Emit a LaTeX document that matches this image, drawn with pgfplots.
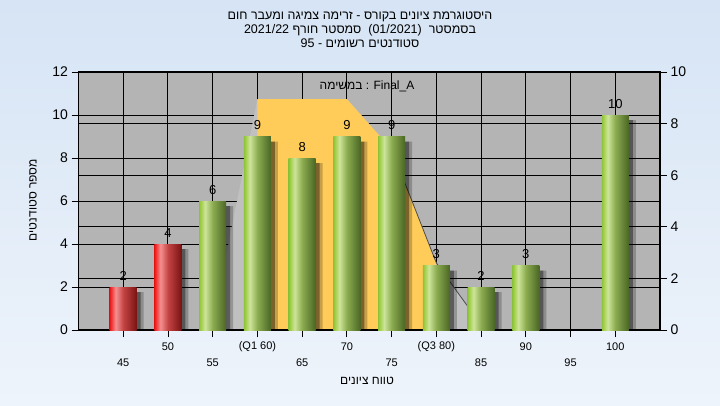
\documentclass[border=0pt]{standalone}
\usepackage{pgfplots}
\pgfplotsset{compat=1.18}
\usepackage{fontspec}
\setmainfont{Liberation Sans}
\newfontfamily\heb[Script=Hebrew]{Liberation Sans}
\TeXXeTstate=1
\newcommand{\fs}[1]{\fontsize{#1}{#1}\selectfont}
\definecolor{bgtop}{HTML}{D6E4F5}
\definecolor{bgbot}{HTML}{EEF4FB}
\definecolor{plotgray}{HTML}{B4B4B4}
\definecolor{wedge}{HTML}{C0C0C0}
\definecolor{areaY}{HTML}{FFCC5A}
\definecolor{gL}{HTML}{8CC43A}
\definecolor{gL2}{HTML}{9CCB40}
\definecolor{gH}{HTML}{CDE59A}
\definecolor{gM}{HTML}{8CAC50}
\definecolor{gR}{HTML}{4A6624}
\definecolor{rL}{HTML}{E81818}
\definecolor{rL2}{HTML}{F02A2A}
\definecolor{rH}{HTML}{F49090}
\definecolor{rM}{HTML}{C44444}
\definecolor{rR}{HTML}{7A1212}
\pgfdeclarehorizontalshading{greenbar}{100bp}{color(0bp)=(gL); color(25bp)=(gL); color(27bp)=(gL2); color(36bp)=(gH); color(50bp)=(gM); color(75bp)=(gR); color(100bp)=(gR)}
\pgfdeclarehorizontalshading{redbar}{100bp}{color(0bp)=(rL); color(25bp)=(rL); color(27bp)=(rL2); color(36bp)=(rH); color(50bp)=(rM); color(75bp)=(rR); color(100bp)=(rR)}
\pgfplotsset{base/.style={scale only axis, width=581.5pt, height=258pt,
  at={(78.5pt,75pt)}, anchor=south west, xmin=-1, xmax=12, ymin=0,
  /pgf/number format/assume math mode=true,
  tick align=outside, major tick length=7pt,
  tick style={black, line width=0.9pt},
  axis line style={black, line width=1.2pt},
  major grid style={black, line width=1pt}},
  gbar/.style={bar shift=0pt, draw=none, shading=greenbar, nodes near coords},
  rbar/.style={bar shift=0pt, draw=none, shading=redbar, nodes near coords}}
\begin{document}
\begin{tikzpicture}
\fill[top color=bgtop, bottom color=bgbot] (0pt,0pt) rectangle (720pt,405pt);
% axis A: background, grids, left ticks, lower row of x labels
\begin{axis}[base, ymax=12,
  axis background/.style={fill=plotgray},
  xtick={0,...,11}, xticklabels={45,{},55,{},65,{},75,{},85,{},95,{}},
  ytick={0,2,...,12}, xmajorgrids, ymajorgrids,
  xtick pos=bottom, ytick pos=left,
  xticklabel style={font=\fs{11}, anchor=center, yshift=-26pt},
  yticklabel style={font=\fs{14}}]
\addplot[draw=none] coordinates {(0,0)};
\end{axis}
% axis B: right axis with area
\begin{axis}[base, ymax=10, axis x line=none, axis y line*=right,
  ytick={0,2,...,10}, ymajorgrids,
  yticklabel style={font=\fs{14}}]
\addplot[fill=wedge, draw=none] coordinates {(2,0.3) (3,8.95) (4,8.95) (5,8.95) (6,7.0) (7,2.6) (8,0.2)} \closedcycle;
\addplot[fill=areaY, draw=none] coordinates {(3,8.95) (4,8.95) (5,8.95) (6,7.0) (7,2.6)} \closedcycle;
\addplot[color=black!70, line width=0.8pt] coordinates {(6,7.0) (7,2.6) (8,0.2)};
\end{axis}
% axis C: bars
\begin{axis}[base, ymax=12, ybar, bar width=27pt,
  xtick={0,...,11}, xticklabels={{},50,{},(Q1 60),{},70,{},(Q3 80),{},90,{},100},
  ytick=\empty, xtick pos=bottom,
  xticklabel style={font=\fs{11}, anchor=center, yshift=-10pt},
  every node near coord/.append style={font=\fs{13}, text=black, anchor=south, yshift=3pt}]
\addplot[bar shift=7pt, yshift=-5pt, fill=black, fill opacity=0.22, draw=none] coordinates {(0,2) (1,4) (2,6) (3,9) (4,8) (5,9) (6,9) (7,3) (8,2) (9,3) (11,10)};
\addplot[bar shift=4pt, yshift=-5pt, fill=black, fill opacity=0.38, draw=none] coordinates {(0,2) (1,4) (2,6) (3,9) (4,8) (5,9) (6,9) (7,3) (8,2) (9,3) (11,10)};
\addplot[rbar] coordinates {(0,2)};
\addplot[rbar] coordinates {(1,4)};
\addplot[gbar] coordinates {(2,6)};
\addplot[gbar] coordinates {(3,9)};
\addplot[gbar] coordinates {(4,8)};
\addplot[gbar] coordinates {(5,9)};
\addplot[gbar] coordinates {(6,9)};
\addplot[gbar] coordinates {(7,3)};
\addplot[gbar] coordinates {(8,2)};
\addplot[gbar] coordinates {(9,3)};
\addplot[gbar] coordinates {(11,10)};
\end{axis}
% texts
\node[font=\fs{12.5}\heb] at (360pt,388pt) {\beginR היסטוגרמת ציונים בקורס - זרימה צמיגה ומעבר חום\endR};
\node[font=\fs{12.5}\heb] at (360pt,375pt) {\beginR בסמסטר \ \beginL(01/2021)\endL\ \ סמסטר חורף \beginL2021/22\endL\endR};
\node[font=\fs{12.5}\heb] at (360pt,362pt) {\beginR סטודנטים רשומים - \beginL95\endL\endR};
\node[font=\fs{12}\heb] at (367pt,319pt) {\beginR במשימה\endR{} : Final\_A};
\node[font=\fs{12}\heb] at (367pt,24pt) {\beginR טווח ציונים\endR};
\node[font=\fs{12}\heb, rotate=90] at (33pt,205pt) {\beginR מספר סטודנטים\endR};
\end{tikzpicture}
\end{document}
